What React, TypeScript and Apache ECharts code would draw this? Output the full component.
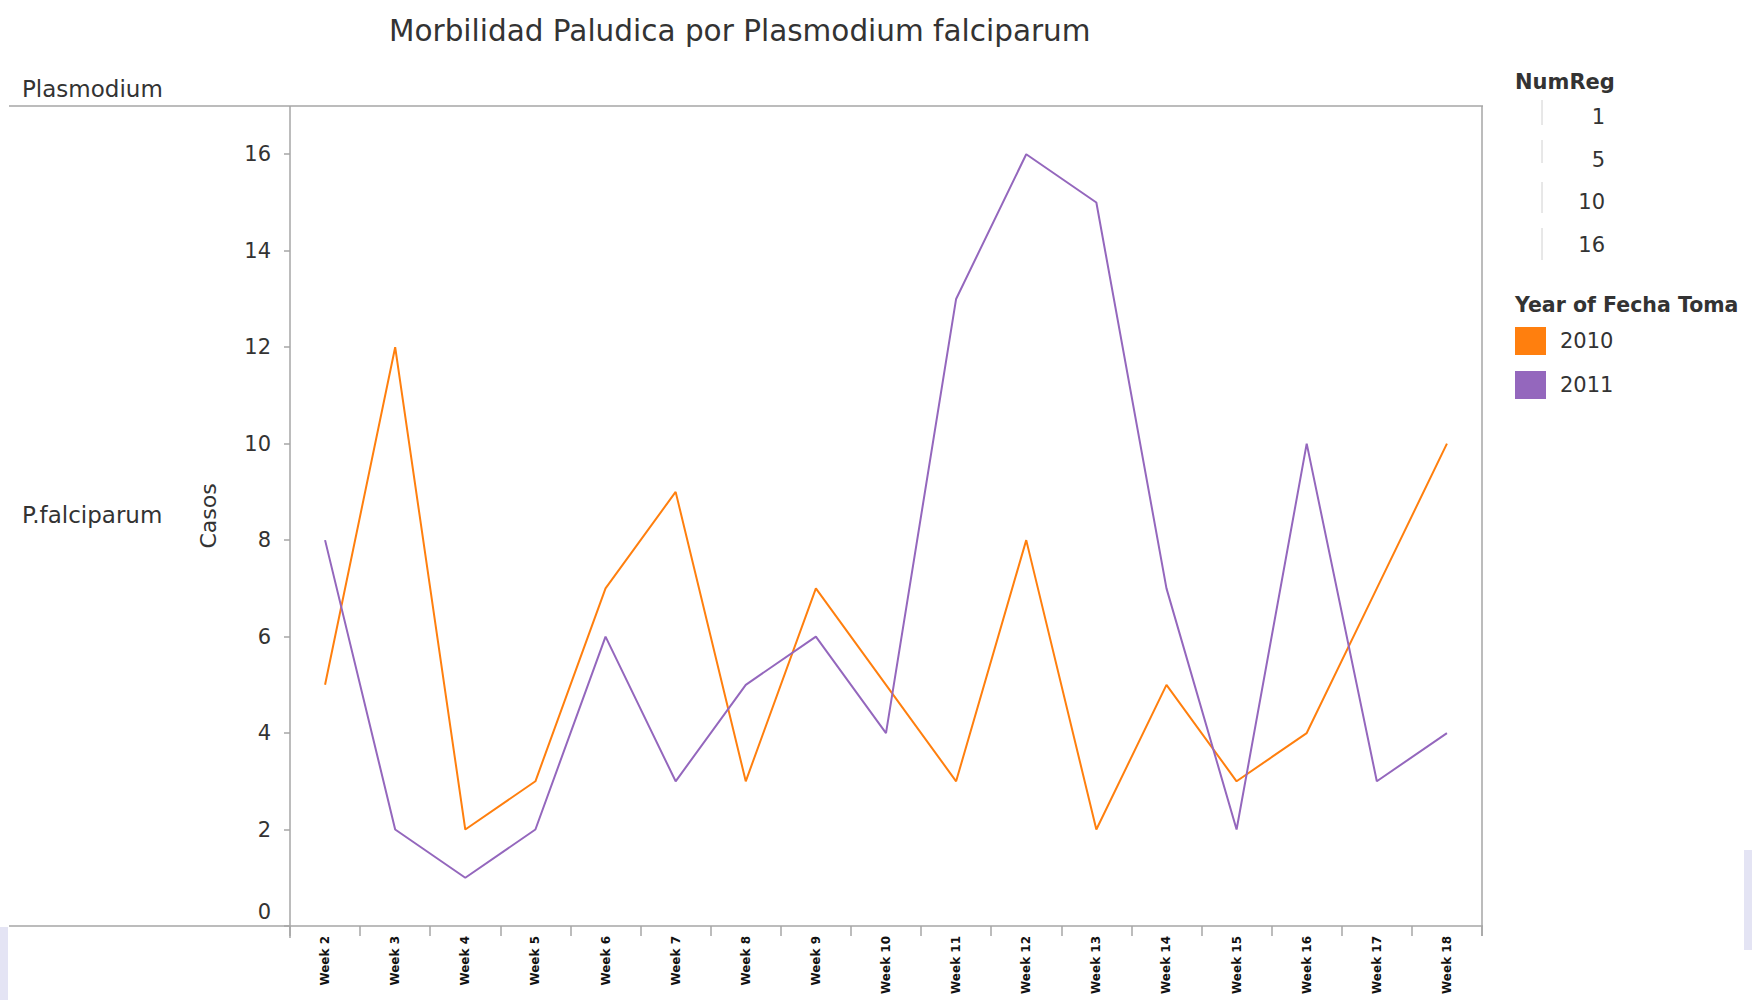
import React, { useEffect, useRef } from "react";
import * as echarts from "echarts";

const weeks = ["Week 2","Week 3","Week 4","Week 5","Week 6","Week 7","Week 8","Week 9","Week 10","Week 11","Week 12","Week 13","Week 14","Week 15","Week 16","Week 17","Week 18"];
const cases2010 = [5, 12, 2, 3, 7, 9, 3, 7, 5, 3, 8, 2, 5, 3, 4, 7, 10];
const cases2011 = [8, 2, 1, 2, 6, 3, 5, 6, 4, 13, 16, 15, 7, 2, 10, 3, 4];
const yearNames = ["2010", "2011"];
const yearColors = ["#FF7F0E", "#9467BD"];
const numRegLegend = ["1", "5", "10", "16"];

const FONT = "'DejaVu Sans', 'Liberation Sans', Arial, sans-serif";
const BORDER = "#A6A6A6";

export default function App() {
  const ref = useRef<HTMLDivElement>(null);
  useEffect(() => {
    if (!ref.current) return;
    const chart = echarts.init(ref.current, null, { renderer: "svg" });
    const numRegY = [117, 160, 202, 245];
    const numRegSeg = [[100, 125], [140, 163], [182, 213], [228, 260]];
    const graphics: any[] = [
      { type: "text", left: 389, top: 16, style: { text: "Morbilidad Paludica por Plasmodium falciparum", font: `29.5px ${FONT}`, fill: "#333333" } },
      { type: "text", x: 22, y: 89, style: { text: "Plasmodium", font: `23px ${FONT}`, fill: "#333333", textVerticalAlign: "middle" } },
      { type: "text", x: 22, y: 515, style: { text: "P.falciparum", font: `23px ${FONT}`, fill: "#333333", textVerticalAlign: "middle" } },
      { type: "line", shape: { x1: 9, y1: 106, x2: 1483, y2: 106 }, style: { stroke: BORDER, lineWidth: 1.5 } },
      { type: "line", shape: { x1: 9, y1: 926, x2: 1483, y2: 926 }, style: { stroke: BORDER, lineWidth: 1.5 } },
      { type: "line", shape: { x1: 1482, y1: 106, x2: 1482, y2: 936 }, style: { stroke: BORDER, lineWidth: 1.5 } },
      { type: "line", shape: { x1: 290, y1: 106, x2: 290, y2: 938 }, style: { stroke: BORDER, lineWidth: 1.5 } },
      { type: "rect", shape: { x: 0, y: 927, width: 8, height: 73 }, style: { fill: "#E4E4F4" } },
      { type: "rect", shape: { x: 1744, y: 850, width: 8, height: 100 }, style: { fill: "#E4E4F4" } },
      { type: "text", x: 1515, y: 82, style: { text: "NumReg", font: `bold 21px ${FONT}`, fill: "#333333", textVerticalAlign: "middle" } },
      { type: "text", x: 1515, y: 305, style: { text: "Year of Fecha Toma", font: `bold 20.5px ${FONT}`, fill: "#333333", textVerticalAlign: "middle" } },
    ];
    numRegLegend.forEach((t, i) => {
      graphics.push({ type: "line", shape: { x1: 1542, y1: numRegSeg[i][0], x2: 1542, y2: numRegSeg[i][1] }, style: { stroke: "#D0D0D0", lineWidth: 1 } });
      graphics.push({ type: "text", x: 1605, y: numRegY[i], style: { text: t, font: `21px ${FONT}`, fill: "#333333", textAlign: "right", textVerticalAlign: "middle" } });
    });
    chart.setOption({
      animation: false,
      backgroundColor: "#FFFFFF",
      grid: { left: 290, right: 270, top: 106, bottom: 74, containLabel: false },
      legend: {
        data: yearNames,
        orient: "vertical",
        left: 1515,
        top: 327,
        itemWidth: 31,
        itemHeight: 28,
        itemGap: 16,
        icon: "rect",
        textStyle: { fontFamily: FONT, fontSize: 21, color: "#333333", padding: [0, 0, 0, 9] },
        padding: 0,
        selectedMode: false,
      },
      xAxis: {
        type: "category",
        data: weeks,
        boundaryGap: true,
        axisLine: { show: false },
        axisTick: { show: true, alignWithLabel: false, length: 10, lineStyle: { color: BORDER, width: 1.5 } },
        axisLabel: { rotate: 90, interval: 0, margin: 10, fontFamily: FONT, fontWeight: "bold", fontSize: 12, color: "#111111" },
        splitLine: { show: false },
      },
      yAxis: {
        type: "value",
        min: 0,
        max: 17,
        interval: 2,
        name: "Casos",
        nameLocation: "middle",
        nameGap: 71,
        nameTextStyle: { fontFamily: FONT, fontSize: 22, color: "#333333" },
        axisLine: { show: false },
        axisTick: { show: true, length: 6, lineStyle: { color: BORDER, width: 1.5 } },
        axisLabel: {
          margin: 19,
          fontFamily: FONT,
          fontSize: 21,
          color: "#333333",
          showMaxLabel: false,
          formatter: (v: number) => (v === 0 ? "{z|0}" : String(v)),
          rich: { z: { fontFamily: FONT, fontSize: 21, color: "#333333", padding: [0, 0, 29, 0] } },
        },
        splitLine: { show: false },
      },
      series: [
        { name: yearNames[0], type: "line", data: cases2010, symbol: "none", lineStyle: { width: 2, color: yearColors[0] }, itemStyle: { color: yearColors[0] } },
        { name: yearNames[1], type: "line", data: cases2011, symbol: "none", lineStyle: { width: 2, color: yearColors[1] }, itemStyle: { color: yearColors[1] } },
      ],
      graphic: graphics,
    });
    return () => chart.dispose();
  }, []);
  return <div ref={ref} style={{ position: "fixed", left: 0, top: 0, width: 1752, height: 1000 }} />;
}
